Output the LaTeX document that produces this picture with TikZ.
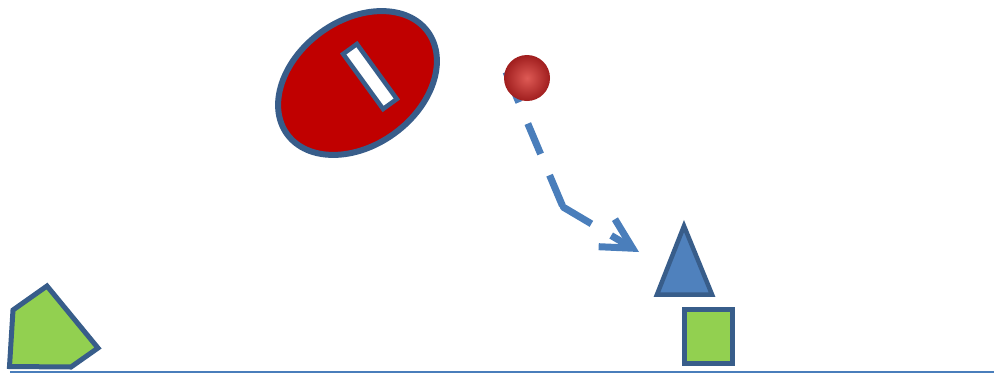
\documentclass[tikz,border=0pt]{standalone}
\usetikzlibrary{shapes.geometric,arrows.meta}
\definecolor{outl}{RGB}{56,93,138}
\definecolor{bluef}{RGB}{79,129,189}
\definecolor{greenf}{RGB}{146,208,80}
\definecolor{darkred}{RGB}{192,0,0}
\definecolor{arrowc}{RGB}{74,126,187}
\definecolor{ballin}{RGB}{222,90,85}
\definecolor{ballout}{RGB}{160,30,30}
\tikzset{
  shapeline/.style={draw=outl, line width=5pt, line join=miter},
  dashline/.style={draw=arrowc, line width=7pt, dash pattern=on 33pt off 23pt},
  dasharrow/.style={dashline, -{Straight Barb[length=30pt,width=32pt,line width=7pt]}},
  ground/.style={draw=arrowc, line width=2pt}
}
\begin{document}
\begin{tikzpicture}[x=1pt,y=-1pt]
\useasboundingbox (0,0) rectangle (994,376);
% disc with slot
\node[ellipse, shapeline, line width=6pt, fill=darkred, minimum width=174pt, minimum height=125pt,
      inner sep=0pt, rotate=36] (disc) at (357.5,83) {};
\node[rectangle, draw=outl, line width=4.5pt, fill=white, minimum width=68pt,
      minimum height=17pt, inner sep=0pt, rotate=-54] (slot) at (370,76.5) {};
% dashed path
\coordinate (s) at (506,72);
\coordinate (c) at (563,207);
\coordinate (t) at (639,252);
\draw[dashline] (s) -- (c);
\draw[dasharrow] (c) -- (t);
\fill[arrowc] (c) circle (3.3pt);
% ball
\node[circle, shading=radial, inner color=ballin, outer color=ballout,
      minimum size=46pt, inner sep=0pt] (ball) at (527,78) {};
% triangle
\coordinate (ta) at (684,226);
\coordinate (tl) at (657,294.5);
\coordinate (tr) at (712,294.5);
\draw[shapeline, line width=4.5pt, fill=bluef] (ta) -- (tl) -- (tr) -- cycle;
% square
\coordinate (sq1) at (684.5,309.5);
\coordinate (sq2) at (732.5,363.5);
\draw[shapeline, fill=greenf] (sq1) rectangle (sq2);
% pentagon
\coordinate (p1) at (47,286);
\coordinate (p2) at (98,348);
\coordinate (p3) at (71,367);
\coordinate (p4) at (9.5,366.5);
\coordinate (p5) at (13,310);
\draw[shapeline, fill=greenf] (p1) -- (p2) -- (p3) -- (p4) -- (p5) -- cycle;
% ground
\coordinate (g1) at (10,372);
\coordinate (g2) at (994,372);
\draw[ground] (g1) -- (g2);
\end{tikzpicture}
\end{document}
